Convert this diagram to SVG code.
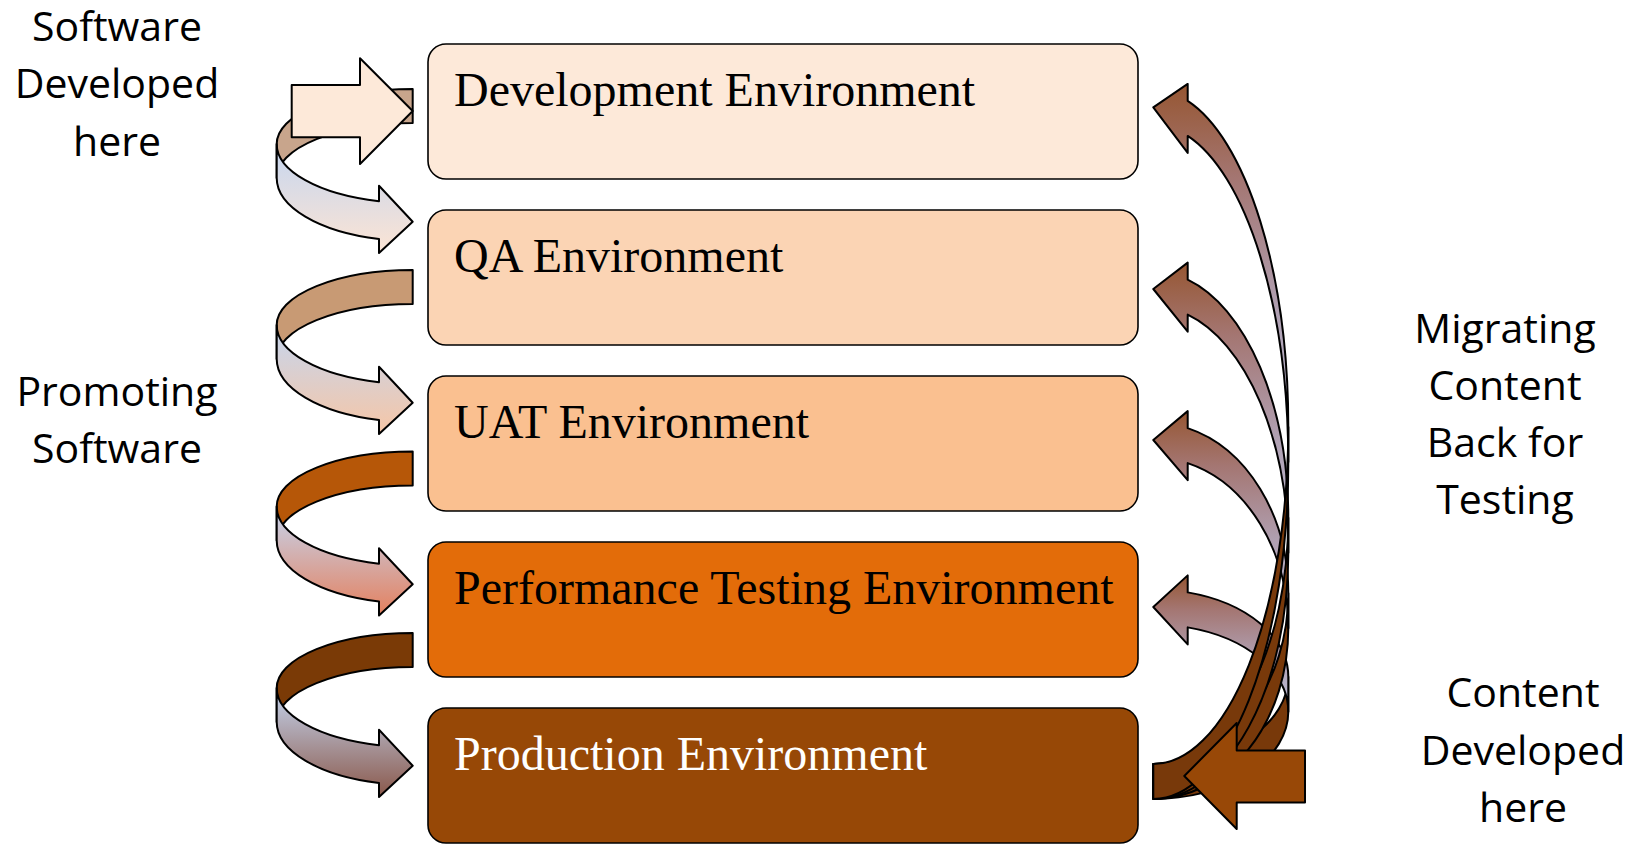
<svg xmlns="http://www.w3.org/2000/svg" width="1639" height="845" viewBox="0 0 1639 845">
<defs>
<style>
.box{stroke:#000;stroke-width:1.6}
.btxt{font-family:"Liberation Serif","Times New Roman",serif;font-size:48px;fill:#000}
.lbl{font-family:"Open Sans","Liberation Sans",sans-serif;font-size:41px;fill:#000;text-anchor:middle}
.ar{stroke:#000;stroke-width:2;stroke-linejoin:round}
</style>
<linearGradient id="g1" x1="0" y1="0" x2="0" y2="1"><stop offset="0" stop-color="#C5D6F0"/><stop offset="1" stop-color="#FCE4D4"/></linearGradient>
<linearGradient id="g2" x1="0" y1="0" x2="0" y2="1"><stop offset="0" stop-color="#C5D6F0"/><stop offset="1" stop-color="#F6C6A6"/></linearGradient>
<linearGradient id="g3" x1="0" y1="0" x2="0" y2="1"><stop offset="0" stop-color="#C5D6F0"/><stop offset="1" stop-color="#E4805E"/></linearGradient>
<linearGradient id="g4" x1="0" y1="0" x2="0" y2="1"><stop offset="0" stop-color="#C5D6F0"/><stop offset="1" stop-color="#8A584A"/></linearGradient>
<linearGradient id="gr" x1="0" y1="0" x2="0" y2="1"><stop offset="0" stop-color="#965632"/><stop offset="0.25" stop-color="#A47672"/><stop offset="0.6" stop-color="#B0A0B2"/><stop offset="1" stop-color="#BDBFD9"/></linearGradient>
<path id="back" d="M412.7,0 A136,55 0 0 0 276.7,55 L276.7,89 A136,55 0 0 1 412.7,34 Z"/>
<path id="front" d="M276.7,55 A136,59 0 0 0 379,112.2 L379,96.7 L412.7,132.7 L379,164 L379,150 A136,63 0 0 1 276.7,89 Z"/>
</defs>
<rect width="1639" height="845" fill="#fff"/>

<g id="dev"><rect class="box" x="428" y="44" width="710" height="135" rx="18" fill="#FDE9D9"/><text class="btxt" x="454" y="106">Development Environment</text></g>
<g id="qa"><rect class="box" x="428" y="210" width="710" height="135" rx="18" fill="#FBD4B4"/><text class="btxt" x="454" y="272">QA Environment</text></g>
<g id="uat"><rect class="box" x="428" y="376" width="710" height="135" rx="18" fill="#FAC090"/><text class="btxt" x="454" y="438">UAT Environment</text></g>
<g id="perf"><rect class="box" x="428" y="542" width="710" height="135" rx="18" fill="#E36C09"/><text class="btxt" x="454" y="604">Performance Testing Environment</text></g>
<g id="prod"><rect class="box" x="428" y="708" width="710" height="135" rx="18" fill="#974806"/><text class="btxt" x="454" y="770" style="fill:#fff">Production Environment</text></g>

<g id="connectors">
<g id="promote1" transform="translate(0,89)"><use href="#back" class="ar" fill="#C8A58C"/><use href="#front" class="ar" fill="url(#g1)"/></g>
<g id="promote2" transform="translate(0,270)"><use href="#back" class="ar" fill="#C89A74"/><use href="#front" class="ar" fill="url(#g2)"/></g>
<g id="promote3" transform="translate(0,451.5)"><use href="#back" class="ar" fill="#B65708"/><use href="#front" class="ar" fill="url(#g3)"/></g>
<g id="promote4" transform="translate(0,633)"><use href="#back" class="ar" fill="#7A3A06"/><use href="#front" class="ar" fill="url(#g4)"/></g>
<path id="swin" class="ar" fill="#FDE9D9" d="M291.7,85 L360,85 L360,58.3 L412.7,111 L360,164 L360,137.3 L291.7,137.3 Z"/>

<g id="mig4">
<path class="ar" fill="#78390A" d="M1153.3,799 A135,87.25 0 0 0 1288.3,711.75 L1288.3,676.75 A135,87.25 0 0 1 1153.3,764 Z"/>
<path class="ar" fill="url(#gr)" d="M1187.7,592.38 A135,87.25 0 0 1 1288.3,676.75 L1288.3,711.75 A135,87.25 0 0 0 1187.7,627.38 L1187.7,644.38 L1153.3,607 L1187.7,575.38 Z"/>
</g>
<g id="mig3">
<path class="ar" fill="#78390A" d="M1153.3,799 A135,170.75 0 0 0 1288.3,628.25 L1288.3,593.25 A135,170.75 0 0 1 1153.3,764 Z"/>
<path class="ar" fill="url(#gr)" d="M1187.7,428.14 A135,170.75 0 0 1 1288.3,593.25 L1288.3,628.25 A135,170.75 0 0 0 1187.7,463.14 L1187.7,480.14 L1153.3,440 L1187.7,411.14 Z"/>
</g>
<g id="mig2">
<path class="ar" fill="#78390A" d="M1153.3,799 A135,246.25 0 0 0 1288.3,552.75 L1288.3,517.75 A135,246.25 0 0 1 1153.3,764 Z"/>
<path class="ar" fill="url(#gr)" d="M1187.7,279.63 A135,246.25 0 0 1 1288.3,517.75 L1288.3,552.75 A135,246.25 0 0 0 1187.7,314.63 L1187.7,331.63 L1153.3,289 L1187.7,262.63 Z"/>
</g>
<g id="mig1">
<path class="ar" fill="#78390A" d="M1153.3,799 A135,337.1 0 0 0 1288.3,461.9 L1288.3,426.9 A135,337.1 0 0 1 1153.3,764 Z"/>
<path class="ar" fill="url(#gr)" d="M1187.7,100.93 A135,337.1 0 0 1 1288.3,426.9 L1288.3,461.9 A135,337.1 0 0 0 1187.7,135.93 L1187.7,152.93 L1153.3,107.3 L1187.7,83.93 Z"/>
</g>
<path id="cin" class="ar" fill="#984807" d="M1305,750.5 L1236.7,750.5 L1236.7,723 L1184.3,776 L1236.7,829 L1236.7,802.5 L1305,802.5 Z"/>
</g>

<g id="labels">
<text class="lbl" x="117" y="41">Software</text>
<text class="lbl" x="117" y="98">Developed</text>
<text class="lbl" x="117" y="156">here</text>
<text class="lbl" x="117" y="406">Promoting</text>
<text class="lbl" x="117" y="463">Software</text>
<text class="lbl" x="1505" y="343">Migrating</text>
<text class="lbl" x="1505" y="400">Content</text>
<text class="lbl" x="1505" y="457">Back for</text>
<text class="lbl" x="1505" y="514">Testing</text>
<text class="lbl" x="1523" y="707">Content</text>
<text class="lbl" x="1523" y="765">Developed</text>
<text class="lbl" x="1523" y="822">here</text>
</g>
</svg>
